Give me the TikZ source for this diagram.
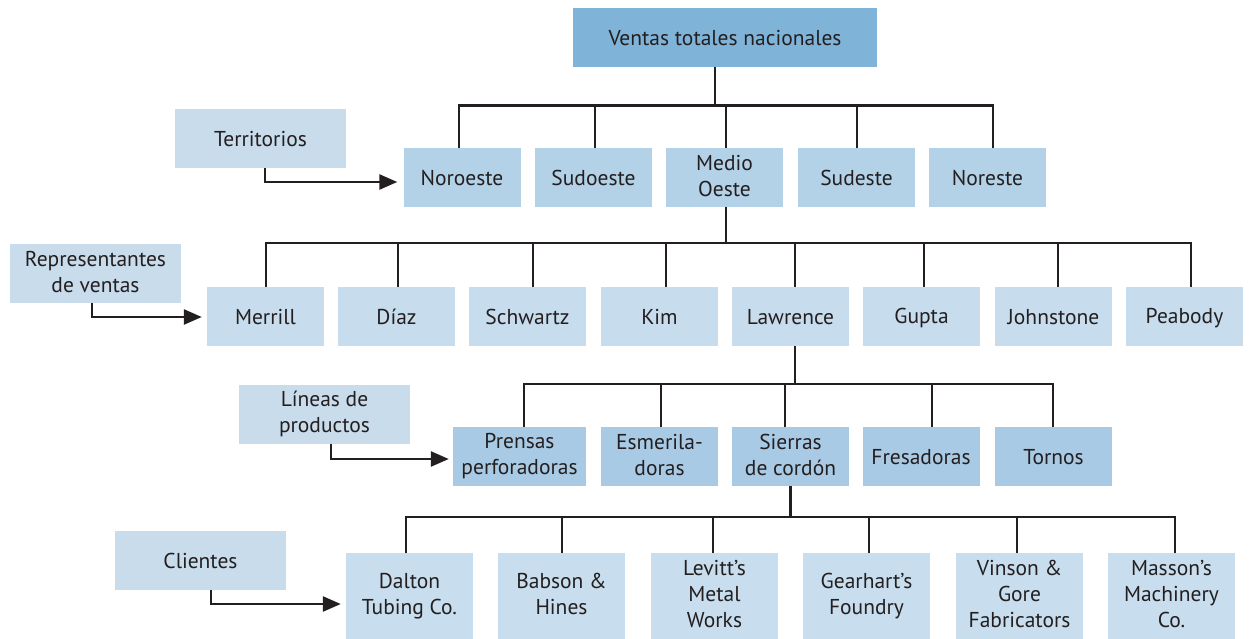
\documentclass[tikz,border=0pt]{standalone}
\usepackage{fontspec}
\setmainfont{PT Sans}
\usetikzlibrary{arrows.meta}
\definecolor{topc}{HTML}{7FB4D8}
\definecolor{lac}{HTML}{B3D1E7}
\definecolor{lbc}{HTML}{C7DCEC}
\definecolor{lcc}{HTML}{A9CAE4}
\definecolor{ldc}{HTML}{C8DDED}
\definecolor{labc}{HTML}{C8DCEC}
\definecolor{txt}{HTML}{231F20}
\definecolor{ln}{HTML}{231F20}
\newcommand\boxstrut{\rule[-3.5pt]{0pt}{22.5pt}}
\begin{document}
\begin{tikzpicture}[x=1pt,y=-1pt,
  box/.style={rectangle, inner sep=0pt, align=center, text=txt,
    font=\fontsize{21.5}{26}\selectfont, minimum height=59pt,
    execute at begin node=\boxstrut, execute at end node=\boxstrut},
  topbox/.style={box, fill=topc, minimum width=304pt},
  boxa/.style={box, fill=lac, minimum width=117pt},
  boxb/.style={box, fill=lbc, minimum width=117pt},
  boxc/.style={box, fill=lcc, minimum width=117pt},
  boxd/.style={box, fill=ldc, minimum width=127pt, minimum height=86pt},
  labbox/.style={box, fill=labc, minimum width=171pt},
  conn/.style={draw=ln, line width=2.6pt},
  arr/.style={conn, -{Triangle[length=18pt,width=15pt]}}
]
\useasboundingbox (0,0) rectangle (1249,639);

% top
\node[topbox] (top) at (725,37.5) {Ventas totales nacionales};

% territories
\node[boxa] (nor) at (462,177.5) {Noroeste};
\node[boxa] (sud) at (593.5,177.5) {Sudoeste};
\node[boxa] (med) at (724.5,177.5) {Medio\\Oeste};
\node[boxa] (sde) at (856.5,177.5) {Sudeste};
\node[boxa] (nore) at (987.5,177.5) {Noreste};

% reps
\node[boxb] (mer) at (265.5,316.5) {Merrill};
\node[boxb] (dia) at (396.5,316.5) {Díaz};
\node[boxb] (sch) at (527.5,316.5) {Schwartz};
\node[boxb] (kim) at (659.5,316.5) {Kim};
\node[boxb] (law) at (790.5,316.5) {Lawrence};
\node[boxb] (gup) at (921.5,316.5) {Gupta};
\node[boxb] (joh) at (1053.5,316.5) {Johnstone};
\node[boxb] (pea) at (1184.5,316.5) {Peabody};

% products
\node[boxc, minimum width=133pt] (pre) at (519.5,456.5) {Prensas\\perforadoras};
\node[boxc] (esm) at (659.5,456.5) {Esmerila-\\doras};
\node[boxc] (sie) at (790.5,456.5) {Sierras\\de cordón};
\node[boxc] (fre) at (921,456.5) {Fresadoras};
\node[boxc] (tor) at (1053.5,456.5) {Tornos};

% clients
\node[boxd] (dal) at (409.5,596) {Dalton\\Tubing Co.};
\node[boxd] (bab) at (561.5,596) {Babson \&\\Hines};
\node[boxd] (lev) at (714.5,596) {Levitt’s\\Metal\\Works};
\node[boxd] (gea) at (866.5,596) {Gearhart’s\\Foundry};
\node[boxd] (vin) at (1019.5,596) {Vinson \&\\Gore\\Fabricators};
\node[boxd] (mas) at (1171.5,596) {Masson’s\\Machinery\\Co.};

% labels
\node[labbox] (terr) at (260.5,138.5) {Territorios};
\node[labbox] (rep) at (95.5,273.5) {Representantes\\de ventas};
\node[labbox] (lin) at (324.5,414) {Líneas de\\productos};
\node[labbox] (cli) at (200.5,560.5) {Clientes};

% tree level 1
\draw[conn] ([xshift=-10pt]top.south) -- ++(0,39);
\draw[conn] ([xshift=-3pt]nor.north) -- ++(0,-42) -| ([xshift=5.5pt]nore.north);
\foreach \n/\s in {sud/1.5, med/1.5, sde/0.5}
  \draw[conn] ([xshift=\s pt]\n.north) -- ++(0,-42);

% tree level 2
\draw[conn] ([xshift=1.5pt]med.south) -- ++(0,36);
\draw[conn] ([xshift=0.5pt]mer.north) -- ++(0,-44) -| ([xshift=6.5pt]pea.north);
\foreach \n/\s in {dia/1.5, sch/5.5, kim/6.5, law/4.5, gup/2.5, joh/4.5}
  \draw[conn] ([xshift=\s pt]\n.north) -- ++(0,-44);

% tree level 3
\draw[conn] ([xshift=4.5pt]law.south) -- ++(0,38);
\draw[conn] ([xshift=4.5pt]pre.north) -- ++(0,-43) -| ([xshift=-0.5pt]tor.north);
\foreach \n/\s in {esm/1.5, sie/-5.5, fre/11}
  \draw[conn] ([xshift=\s pt]\n.north) -- ++(0,-43);

% tree level 4
\draw[conn] (sie.south) -- ++(0,31);
\draw[conn] ([xshift=-3.5pt]dal.north) -- ++(0,-36) -| ([xshift=3.5pt]mas.north);
\foreach \n/\s in {bab/0.5, lev/-1.5, gea/2.5, vin/-2.5}
  \draw[conn] ([xshift=\s pt]\n.north) -- ++(0,-36);

% label arrows
\draw[arr] ([xshift=4.5pt]terr.south) |- ([xshift=-6pt,yshift=-4.5pt]nor.west);
\draw[arr] ([xshift=-3.5pt]rep.south) |- ([xshift=-5pt,yshift=-0.5pt]mer.west);
\draw[arr] ([xshift=6.5pt]lin.south) |- ([xshift=-4pt,yshift=-2.5pt]pre.west);
\draw[arr] ([xshift=10.5pt]cli.south) |- ([xshift=-5pt,yshift=-8pt]dal.west);
\end{tikzpicture}
\end{document}
